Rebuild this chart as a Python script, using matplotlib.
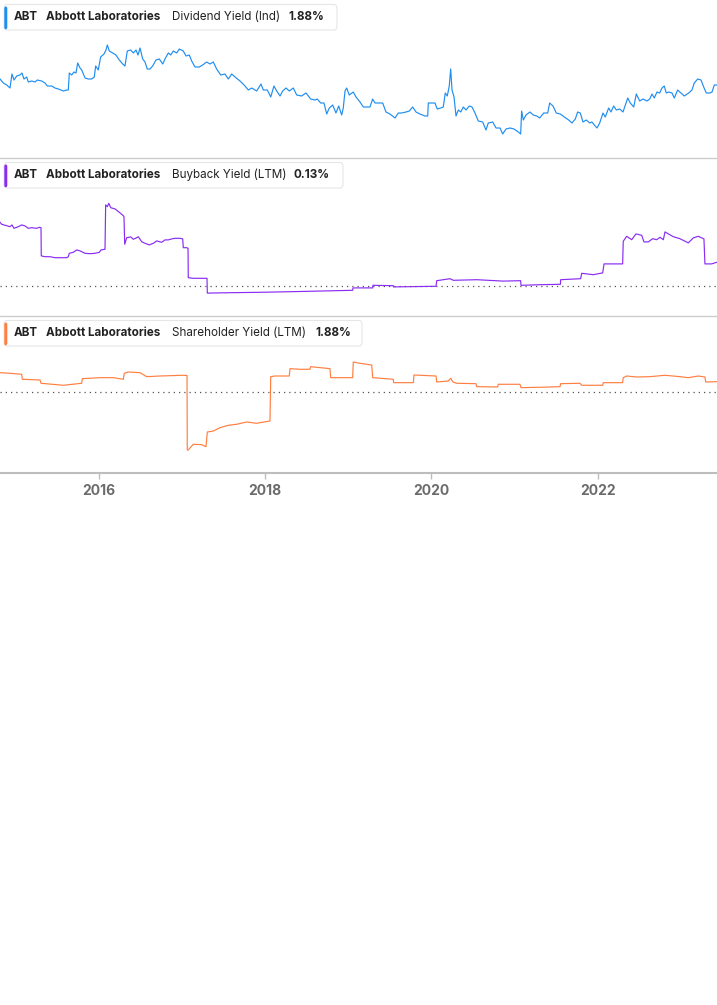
import matplotlib
matplotlib.use("Agg")
import matplotlib.pyplot as plt
from matplotlib.patches import FancyBboxPatch

plt.rcParams['font.family'] = ['Inter', 'DejaVu Sans']

# ---------------- data ----------------
ticker = "ABT"
company = "Abbott Laboratories"
metric_names = ["Dividend Yield (Ind)", "Buyback Yield (LTM)", "Shareholder Yield (LTM)"]
metric_values = ["1.88%", "0.13%", "1.88%"]
year_ticks = [2016, 2018, 2020, 2022]
x_start, x_end = 2014.814, 2023.432

div_years = [2014.814, 2014.854, 2014.895, 2014.934, 2014.958, 2014.982, 2015.015, 2015.054, 2015.078, 2015.102,
             2015.135, 2015.154, 2015.195, 2015.235, 2015.262, 2015.315, 2015.355, 2015.383, 2015.435, 2015.475,
             2015.515, 2015.575, 2015.616, 2015.635, 2015.647, 2015.676, 2015.703, 2015.727, 2015.748, 2015.776,
             2015.796, 2015.836, 2015.875, 2015.916, 2015.947, 2015.964, 2015.995, 2016.024, 2016.064, 2016.088,
             2016.104, 2016.128, 2016.169, 2016.208, 2016.248, 2016.289, 2016.316, 2016.344, 2016.385, 2016.416,
             2016.449, 2016.473, 2016.497, 2016.529, 2016.557, 2016.584, 2016.617, 2016.649, 2016.689, 2016.729,
             2016.770, 2016.797, 2016.837, 2016.866, 2016.897, 2016.938, 2016.969, 2017.017, 2017.050, 2017.089,
             2017.118, 2017.158, 2017.209, 2017.250, 2017.298, 2017.338, 2017.378, 2017.418, 2017.467, 2017.518,
             2017.558, 2017.599, 2017.639, 2017.699, 2017.759, 2017.798, 2017.839, 2017.899, 2017.951, 2017.979,
             2018.027, 2018.068, 2018.107, 2018.140, 2018.180, 2018.212, 2018.252, 2018.291, 2018.339, 2018.380,
             2018.440, 2018.492, 2018.548, 2018.600, 2018.628, 2018.668, 2018.708, 2018.741, 2018.772, 2018.813,
             2018.852, 2018.885, 2018.921, 2018.940, 2018.961, 2018.981, 2019.012, 2019.060, 2019.093, 2019.141,
             2019.181, 2019.221, 2019.261, 2019.293, 2019.321, 2019.361, 2019.414, 2019.453, 2019.501, 2019.562,
             2019.601, 2019.642, 2019.694, 2019.734, 2019.774, 2019.814, 2019.862, 2019.922, 2019.955, 2019.962,
             2020.003, 2020.042, 2020.070, 2020.111, 2020.142, 2020.166, 2020.190, 2020.214, 2020.231, 2020.247,
             2020.271, 2020.295, 2020.323, 2020.352, 2020.383, 2020.415, 2020.455, 2020.487, 2020.523, 2020.563,
             2020.616, 2020.655, 2020.683, 2020.736, 2020.776, 2020.824, 2020.856, 2020.896, 2020.944, 2020.992,
             2021.044, 2021.072, 2021.084, 2021.104, 2021.136, 2021.184, 2021.224, 2021.265, 2021.301, 2021.349,
             2021.397, 2021.421, 2021.461, 2021.500, 2021.548, 2021.597, 2021.649, 2021.689, 2021.729, 2021.757,
             2021.789, 2021.821, 2021.861, 2021.902, 2021.929, 2021.957, 2021.990, 2022.022, 2022.062, 2022.089,
             2022.130, 2022.158, 2022.190, 2022.222, 2022.263, 2022.302, 2022.330, 2022.359, 2022.390, 2022.431,
             2022.462, 2022.503, 2022.542, 2022.591, 2022.623, 2022.651, 2022.678, 2022.711, 2022.743, 2022.771,
             2022.798, 2022.822, 2022.851, 2022.891, 2022.919, 2022.959, 2022.999, 2023.039, 2023.092, 2023.131,
             2023.159, 2023.200, 2023.240, 2023.272, 2023.303, 2023.344, 2023.372, 2023.400, 2023.432]
div_yield = [1.94, 1.90, 1.88, 1.85, 1.99, 1.93, 1.97, 1.98, 2.00, 1.94,
             1.96, 1.91, 1.92, 1.91, 1.93, 1.92, 1.90, 1.87, 1.87, 1.85,
             1.84, 1.82, 1.83, 1.83, 2.00, 1.98, 2.01, 2.00, 2.10, 2.05,
             2.03, 1.95, 1.94, 1.94, 1.96, 2.07, 2.03, 2.16, 2.19, 2.23,
             2.28, 2.22, 2.20, 2.18, 2.13, 2.09, 2.07, 2.22, 2.23, 2.20,
             2.23, 2.18, 2.25, 2.14, 2.11, 2.04, 2.04, 2.07, 2.13, 2.14,
             2.09, 2.14, 2.20, 2.18, 2.22, 2.20, 2.24, 2.22, 2.17, 2.18,
             2.12, 2.06, 2.06, 2.08, 2.11, 2.09, 2.11, 2.04, 1.98, 1.99,
             1.94, 1.99, 1.96, 1.92, 1.87, 1.83, 1.85, 1.82, 1.89, 1.83,
             1.83, 1.76, 1.87, 1.82, 1.77, 1.82, 1.85, 1.82, 1.85, 1.78,
             1.77, 1.80, 1.74, 1.73, 1.74, 1.70, 1.70, 1.59, 1.65, 1.68,
             1.60, 1.67, 1.58, 1.65, 1.82, 1.85, 1.78, 1.81, 1.76, 1.71,
             1.66, 1.66, 1.66, 1.74, 1.70, 1.70, 1.70, 1.61, 1.59, 1.55,
             1.60, 1.60, 1.61, 1.62, 1.66, 1.61, 1.59, 1.57, 1.57, 1.70,
             1.70, 1.70, 1.64, 1.65, 1.66, 1.80, 1.77, 1.87, 2.04, 1.83,
             1.76, 1.57, 1.63, 1.61, 1.66, 1.63, 1.67, 1.66, 1.60, 1.52,
             1.51, 1.43, 1.50, 1.51, 1.45, 1.45, 1.39, 1.44, 1.45, 1.44,
             1.41, 1.39, 1.62, 1.53, 1.58, 1.61, 1.58, 1.57, 1.55, 1.60,
             1.60, 1.70, 1.67, 1.60, 1.59, 1.56, 1.53, 1.50, 1.54, 1.61,
             1.60, 1.51, 1.53, 1.50, 1.51, 1.48, 1.45, 1.50, 1.60, 1.56,
             1.65, 1.61, 1.67, 1.63, 1.64, 1.61, 1.68, 1.75, 1.70, 1.66,
             1.79, 1.72, 1.74, 1.72, 1.74, 1.79, 1.75, 1.81, 1.80, 1.85,
             1.87, 1.80, 1.81, 1.80, 1.75, 1.83, 1.80, 1.77, 1.80, 1.83,
             1.90, 1.94, 1.93, 1.86, 1.80, 1.80, 1.81, 1.88, 1.88]

buy_years = [2014.814, 2014.834, 2014.895, 2014.934, 2014.958, 2014.982, 2015.034, 2015.075, 2015.114, 2015.154,
             2015.195, 2015.255, 2015.286, 2015.307, 2015.310, 2015.355, 2015.415, 2015.475, 2015.535, 2015.616,
             2015.635, 2015.647, 2015.695, 2015.736, 2015.776, 2015.836, 2015.896, 2015.956, 2016.008, 2016.028,
             2016.076, 2016.084, 2016.104, 2016.121, 2016.145, 2016.196, 2016.248, 2016.296, 2016.304, 2016.313,
             2016.337, 2016.385, 2016.416, 2016.457, 2016.476, 2016.517, 2016.557, 2016.608, 2016.657, 2016.697,
             2016.757, 2016.797, 2016.837, 2016.878, 2016.917, 2016.977, 2017.010, 2017.017, 2017.058, 2017.074,
             2017.077, 2017.137, 2017.209, 2017.302, 2017.306, 2017.578, 2017.939, 2018.420, 2019.053, 2019.057,
             2019.294, 2019.296, 2019.541, 2019.544, 2020.055, 2020.063, 2020.223, 2020.263, 2020.544, 2020.863,
             2021.072, 2021.076, 2021.305, 2021.550, 2021.553, 2021.793, 2021.806, 2021.945, 2022.058, 2022.074,
             2022.298, 2022.305, 2022.346, 2022.407, 2022.458, 2022.527, 2022.554, 2022.606, 2022.659, 2022.707,
             2022.747, 2022.787, 2022.807, 2022.847, 2022.907, 2022.987, 2023.087, 2023.147, 2023.207, 2023.275,
             2023.287, 2023.368, 2023.428]
buy_yield = [0.320, 0.310, 0.303, 0.298, 0.307, 0.290, 0.298, 0.307, 0.302, 0.290,
             0.293, 0.290, 0.295, 0.293, 0.152, 0.148, 0.148, 0.143, 0.143, 0.143,
             0.148, 0.165, 0.170, 0.182, 0.177, 0.165, 0.163, 0.165, 0.170, 0.182,
             0.185, 0.407, 0.398, 0.415, 0.393, 0.387, 0.370, 0.353, 0.348, 0.210,
             0.243, 0.247, 0.235, 0.243, 0.248, 0.223, 0.215, 0.207, 0.215, 0.227,
             0.220, 0.232, 0.232, 0.237, 0.240, 0.240, 0.237, 0.193, 0.193, 0.190,
             0.043, 0.040, 0.040, 0.040, -0.034, -0.032, -0.030, -0.026, -0.020, -0.008,
             -0.008, 0.005, 0.003, -0.003, 0.000, 0.028, 0.038, 0.030, 0.033, 0.026,
             0.028, 0.005, 0.008, 0.010, 0.033, 0.038, 0.065, 0.058, 0.067, 0.112,
             0.112, 0.225, 0.250, 0.233, 0.262, 0.255, 0.222, 0.222, 0.238, 0.233,
             0.245, 0.233, 0.272, 0.262, 0.248, 0.238, 0.217, 0.242, 0.250, 0.237,
             0.112, 0.112, 0.120]

sh_years = [2014.814, 2014.934, 2015.075, 2015.082, 2015.295, 2015.307, 2015.575, 2015.796, 2015.803, 2016.016,
            2016.176, 2016.296, 2016.308, 2016.356, 2016.497, 2016.577, 2016.737, 2017.010, 2017.062, 2017.065,
            2017.077, 2017.137, 2017.238, 2017.290, 2017.306, 2017.378, 2017.459, 2017.558, 2017.659, 2017.779,
            2017.899, 2018.059, 2018.068, 2018.119, 2018.291, 2018.300, 2018.420, 2018.540, 2018.548, 2018.780,
            2018.789, 2019.053, 2019.060, 2019.141, 2019.282, 2019.294, 2019.541, 2019.545, 2019.782, 2019.790,
            2020.055, 2020.063, 2020.202, 2020.231, 2020.259, 2020.303, 2020.535, 2020.544, 2020.796, 2020.803,
            2021.064, 2021.076, 2021.305, 2021.545, 2021.553, 2021.785, 2021.806, 2022.058, 2022.065, 2022.298,
            2022.305, 2022.346, 2022.466, 2022.627, 2022.807, 2022.987, 2023.087, 2023.207, 2023.287, 2023.296,
            2023.428]
sh_yield = [3.53, 3.42, 3.24, 2.34, 2.21, 1.62, 1.26, 1.62, 2.45, 2.63,
            2.63, 2.34, 3.42, 3.65, 3.53, 2.81, 2.93, 3.06, 3.02, -10.39,
            -10.39, -9.36, -9.43, -9.79, -7.15, -6.97, -6.37, -5.94, -5.76, -5.35,
            -5.58, -5.17, 2.81, 2.93, 2.93, 4.25, 4.14, 4.14, 4.61, 4.25,
            2.63, 2.63, 5.45, 5.22, 4.91, 2.63, 2.34, 1.73, 1.73, 3.11,
            2.93, 1.85, 2.03, 2.52, 1.85, 1.62, 1.55, 1.01, 0.95, 1.44,
            1.44, 0.83, 0.90, 1.01, 1.55, 1.62, 1.26, 1.26, 1.73, 1.73,
            2.63, 2.93, 2.75, 2.81, 3.06, 2.81, 2.63, 2.93, 2.75, 1.85,
            1.91]

series = [(div_years, div_yield), (buy_years, buy_yield), (sh_years, sh_yield)]
colors = ["#1f8ef1", "#8a2cf2", "#ff7f40"]
ylims = [(1.15, 2.73), (-0.1485, 0.6415), (-14.53, 13.73)]
show_zero = [False, True, True]

# ---------------- layout ----------------
W, H = 717, 1005
fig = plt.figure(figsize=(W / 100, H / 100), dpi=100)
panel_px = [(0, 158), (158, 316), (316, 473)]
box_right = [337, 343, 362]
metric_x = [171.5, 171.5, 171.5]
value_x = [288.5, 294, 315]

def fx(x):
    return x / W

def fy(y):
    return 1 - y / H

for i, (top, bot) in enumerate(panel_px):
    ax = fig.add_axes([0, fy(bot), 1, (bot - top) / H])
    xs, ys = series[i]
    ax.plot(xs, ys, color=colors[i], lw=0.85, solid_joinstyle='round')
    if show_zero[i]:
        ax.axhline(0, color="#555555", lw=0.9, linestyle=(0, (1, 3.2)), zorder=1)
    ax.set_xlim(x_start, x_end)
    ax.set_ylim(*ylims[i])
    ax.set_yticks([])
    for s in ["top", "left", "right"]:
        ax.spines[s].set_visible(False)
    ax.patch.set_alpha(0)
    if i < 2:
        ax.spines["bottom"].set_color("#cccccc")
        ax.spines["bottom"].set_linewidth(1.0)
        ax.set_xticks([])
    else:
        ax.spines["bottom"].set_color("#bdbdbd")
        ax.spines["bottom"].set_linewidth(1.5)
        ax.set_xticks(year_ticks)
        ax.set_xticklabels([str(t) for t in year_ticks])
        ax.tick_params(axis="x", direction="out", length=4, width=1, color="#bdbdbd",
                       labelsize=10, labelcolor="#6b6b6b", pad=4)
        for lab in ax.get_xticklabels():
            lab.set_fontweight("bold")

    # legend box
    bx0, by0, bx1, by1 = 4, top + 4.5, box_right[i], top + 30
    box = FancyBboxPatch((fx(bx0), fy(by1)), fx(bx1) - fx(bx0), fy(by0) - fy(by1),
                         boxstyle="round,pad=0,rounding_size=0.004",
                         transform=fig.transFigure, facecolor="white",
                         edgecolor="#e6e6e6", lw=0.8, zorder=5)
    fig.patches.append(box)
    bar = FancyBboxPatch((fx(4.3), fy(top + 29.3)), fx(3), fy(top + 6.5) - fy(top + 29.3),
                         boxstyle="round,pad=0,rounding_size=0.002",
                         transform=fig.transFigure, facecolor=colors[i],
                         edgecolor="none", zorder=6)
    fig.patches.append(bar)
    ty = fy(top + 17)
    kw = dict(va="center", ha="left", fontsize=8.4, color="#222222", zorder=7)
    fig.text(fx(13.3), ty, ticker, fontweight="bold", **kw)
    fig.text(fx(46.5), ty, company, fontweight="bold", **kw)
    fig.text(fx(metric_x[i]), ty, metric_names[i], fontweight="normal", **kw)
    fig.text(fx(value_x[i]), ty, metric_values[i], fontweight="bold", **kw)

fig.savefig("out.png", dpi=100, facecolor="white")
